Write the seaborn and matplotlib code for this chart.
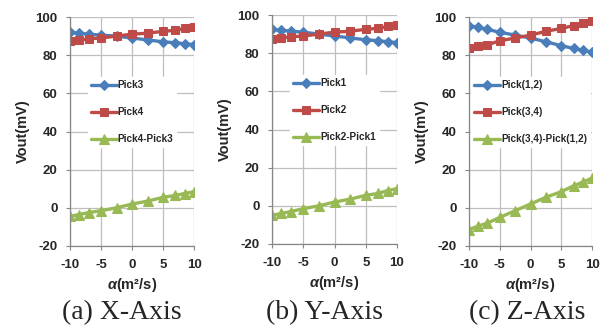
import matplotlib
matplotlib.use("Agg")
import matplotlib.pyplot as plt
import seaborn as sns
import pandas as pd

sns.set_theme(style="white")
plt.rcParams['font.family'] = ['Liberation Sans', 'DejaVu Sans']
plt.rcParams['axes.unicode_minus'] = False
plt.rcParams['mathtext.fontset'] = 'custom'
plt.rcParams['mathtext.bf'] = 'Liberation Sans:bold'
plt.rcParams['mathtext.it'] = 'Liberation Sans:italic:bold'

alpha = [-10, -8.5, -7, -5, -2.5, 0, 2.5, 5, 7, 8.5, 10]

# (a) X-Axis
pick3 = [92, 91.5, 91, 90.5, 90, 89, 88, 87, 86.5, 86, 85.5]
pick4 = [87.5, 88, 88.5, 89, 90, 91, 91.5, 92.5, 93, 94, 94.5]
diff_a = [-4.5, -3.5, -2.5, -1.5, 0, 2, 3.5, 5.5, 6.5, 7.5, 8.5]

# (b) Y-Axis
pick1 = [92.5, 92, 91.5, 91, 90, 89, 88, 87, 86.5, 86, 85.5]
pick2 = [87.5, 88, 88.5, 89, 90, 91, 91.5, 92.5, 93, 94, 94.5]
diff_b = [-5, -4, -3, -1.5, 0, 2, 3.5, 5.5, 6.5, 8, 9]

# (c) Z-Axis
pick12 = [95.5, 94.5, 93.5, 92, 90.5, 89, 87, 85, 83.5, 82.5, 81.5]
pick34 = [84, 85, 85.5, 87.5, 89, 90.5, 92.5, 94, 95.5, 97, 98]
diff_c = [-11.5, -9.5, -8, -5, -1.5, 2, 5.5, 8.5, 11.5, 13.5, 15.5]

panels = [
    ("(a) X-Axis", [("Pick3", pick3), ("Pick4", pick4), ("Pick4-Pick3", diff_a)]),
    ("(b) Y-Axis", [("Pick1", pick1), ("Pick2", pick2), ("Pick2-Pick1", diff_b)]),
    ("(c) Z-Axis", [("Pick(1,2)", pick12), ("Pick(3,4)", pick34), ("Pick(3,4)-Pick(1,2)", diff_c)]),
]

colors = ["#4A7EBB", "#BE4B48", "#98B954"]
markers = ["D", "s", "^"]
msizes = [5.5, 5.5, 6.5]

W, H = 606, 333
fig = plt.figure(figsize=(W / 100, H / 100), dpi=100)

boxes = [(70, 194, 17, 246), (272, 397, 15, 244), (469, 592, 17, 246)]
cap_x = [122, 324, 527]

for i, ((caption, series), (x0, x1, yt, yb)) in enumerate(zip(panels, boxes)):
    ax = fig.add_axes([x0 / W, 1 - yb / H, (x1 - x0) / W, (yb - yt) / H])
    for j, (name, vals) in enumerate(series):
        df = pd.DataFrame({"alpha": alpha, "v": vals})
        sns.lineplot(data=df, x="alpha", y="v", ax=ax, color=colors[j],
                     marker=markers[j], markersize=msizes[j], linewidth=2.4,
                     markeredgecolor=colors[j], label=name)
    ax.set_xlim(-10, 10)
    ax.set_ylim(-20, 100)
    ax.set_xticks([-10, -5, 0, 5, 10])
    ax.set_yticks([-20, 0, 20, 40, 60, 80, 100])
    ax.grid(True, color="#BFBFBF", linewidth=0.9)
    ax.set_axisbelow(True)
    for s in ["top", "right"]:
        ax.spines[s].set_visible(False)
    for s in ["left", "bottom"]:
        ax.spines[s].set_color("#868686")
        ax.spines[s].set_linewidth(0.9)
    ax.tick_params(axis="both", labelsize=9.5, length=3, width=0.8,
                   color="#868686", pad=6, left=True, bottom=True)
    for lab in ax.get_xticklabels() + ax.get_yticklabels():
        lab.set_fontweight("bold")
    ax.set_xlabel(r"$\mathit{\alpha}$(m²/s)", fontsize=10.5, fontweight="bold",
                  labelpad=4)
    ax.set_ylabel("Vout(mV)", fontsize=10.5, fontweight="bold", labelpad=4)
    leg = ax.legend(loc="center", bbox_to_anchor=(0.5, 0.585), frameon=True,
                    facecolor="white", edgecolor="white", framealpha=1,
                    fontsize=7.2, labelspacing=1.7, handlelength=2.6,
                    handletextpad=0.1, borderpad=0.3)
    for t in leg.get_texts():
        t.set_fontweight("bold")
    fig.text(cap_x[i] / W, 1 - 313 / H, caption, ha="center", va="center",
             fontsize=20, family=["Liberation Serif", "DejaVu Serif"])

fig.savefig("out.png", dpi=100)
